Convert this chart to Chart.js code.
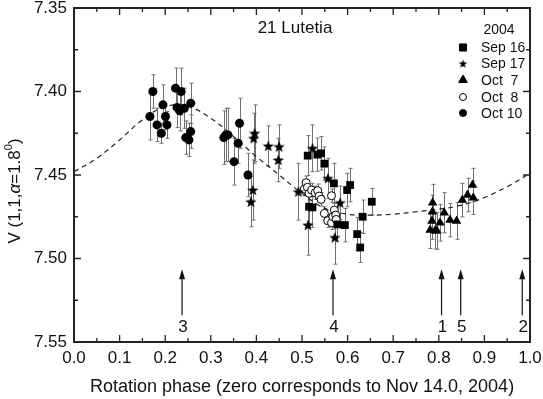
<!DOCTYPE html>
<html>
<head>
<meta charset="utf-8">
<script src="https://cdn.jsdelivr.net/npm/chart.js@4.4.1/dist/chart.umd.min.js"></script>
<style>
html, body { margin: 0; padding: 0; background: #fff; }
</style>
</head>
<body>
<canvas id="lutetia" width="543" height="399"></canvas>
<script>
// Sep 16 (squares)
const sep16X = [0.5125, 0.5155, 0.523, 0.5337, 0.542, 0.549, 0.570, 0.5776, 0.594, 0.599, 0.6056, 0.621, 0.6276, 0.633, 0.653];
const sep16Y = [7.4384, 7.469, 7.4694, 7.4378, 7.437, 7.4432, 7.455, 7.4796, 7.480, 7.459, 7.456, 7.4854, 7.4934, 7.475, 7.466];
const sep16Err = [0.012, 0.010, 0.012, 0.010, 0.010, 0.010, 0.012, 0.010, 0.010, 0.010, 0.010, 0.010, 0.009, 0.010, 0.008];

// Sep 17 (stars)
const sep17X = [0.388, 0.392, 0.394, 0.396, 0.426, 0.448, 0.4497, 0.492, 0.513, 0.523, 0.557, 0.572, 0.5836];
const sep17Y = [7.466, 7.459, 7.428, 7.425, 7.4326, 7.441, 7.433, 7.460, 7.480, 7.434, 7.452, 7.4874, 7.4666];
const sep17Err = [0.015, 0.018, 0.015, 0.017, 0.012, 0.013, 0.013, 0.017, 0.018, 0.014, 0.012, 0.016, 0.010];

// Oct 7 (triangles)
const oct7X = [0.781, 0.785, 0.786, 0.7865, 0.7917, 0.796, 0.8026, 0.812, 0.8246, 0.839, 0.8516, 0.863, 0.874, 0.8757];
const oct7Y = [7.483, 7.4775, 7.472, 7.4666, 7.4834, 7.4834, 7.4786, 7.4726, 7.477, 7.4775, 7.465, 7.462, 7.456, 7.4636];
const oct7Err = [0.011, 0.011, 0.010, 0.011, 0.011, 0.011, 0.011, 0.012, 0.010, 0.011, 0.010, 0.010, 0.010, 0.010];

// Oct 8 (open circles)
const oct8X = [0.505, 0.509, 0.512, 0.5155, 0.521, 0.529, 0.5345, 0.5375, 0.542, 0.549, 0.5564, 0.5647, 0.5647, 0.5677, 0.571, 0.574, 0.575];
const oct8Y = [7.4584, 7.4546, 7.4574, 7.461, 7.459, 7.4606, 7.4594, 7.4626, 7.4646, 7.473, 7.4774, 7.4624, 7.4786, 7.475, 7.471, 7.474, 7.4766];
const oct8Err = [0.004, 0.004, 0.004, 0.004, 0.004, 0.004, 0.004, 0.004, 0.004, 0.004, 0.004, 0.004, 0.004, 0.004, 0.004, 0.004, 0.004];

// Oct 10 (filled circles)
const oct10X = [0.1665, 0.173, 0.182, 0.1915, 0.195, 0.2006, 0.204, 0.2226, 0.226, 0.2316, 0.235, 0.242, 0.245, 0.252, 0.256, 0.256, 0.3285, 0.333, 0.3376, 0.351, 0.360, 0.363, 0.3815];
const oct10Y = [7.415, 7.400, 7.420, 7.425, 7.408, 7.415, 7.420, 7.398, 7.4096, 7.4116, 7.400, 7.410, 7.4276, 7.429, 7.407, 7.424, 7.4276, 7.426, 7.426, 7.442, 7.431, 7.419, 7.450];
const oct10Err = [0.014, 0.010, 0.010, 0.006, 0.012, 0.008, 0.008, 0.012, 0.012, 0.012, 0.014, 0.012, 0.010, 0.010, 0.012, 0.010, 0.016, 0.016, 0.016, 0.014, 0.012, 0.015, 0.013];

// fitted lightcurve (dashed)
const curveX = [0, 0.05, 0.10, 0.15, 0.20, 0.25, 0.30, 0.35, 0.40, 0.45, 0.50, 0.55, 0.60, 0.65, 0.70, 0.75, 0.80, 0.85, 0.90, 0.95, 1.00];
const curveY = [7.448, 7.440, 7.429, 7.417, 7.409, 7.409, 7.416, 7.427, 7.439, 7.450, 7.461, 7.470, 7.4735, 7.474, 7.4735, 7.472, 7.4705, 7.468, 7.4635, 7.457, 7.449];

// arrows
const arrowX = [0.237, 0.568, 0.806, 0.848, 0.983];
const arrowLabels = ['3', '4', '1', '5', '2'];

const legendYear = '2004';
const chartTitle = '21 Lutetia';

const FONT = "'Liberation Sans', Arial, sans-serif";

const pts = (xs, ys) => xs.map((x, i) => ({ x: x, y: ys[i] }));

const starImage = r => {
    const c = document.createElement('canvas');
    const s = Math.ceil(r * 2 + 2);
    c.width = s; c.height = s;
    const g = c.getContext('2d');
    g.fillStyle = '#000';
    g.beginPath();
    for (let i = 0; i < 10; i++) {
        const a = -Math.PI / 2 + i * Math.PI / 5;
        const rr = i % 2 ? r * 0.42 : r;
        g.lineTo(s / 2 + rr * Math.cos(a), s / 2 + 0.5 + rr * Math.sin(a));
    }
    g.closePath();
    g.fill();
    return c;
};
const star = starImage(6);
const smallStar = starImage(4.5);

const errorBars = {
    id: 'errorBars',
    beforeDatasetsDraw(chart) {
        const { ctx, scales: { x, y } } = chart;
        ctx.save();
        ctx.strokeStyle = '#707070';
        ctx.lineWidth = 1;
        chart.data.datasets.forEach(ds => {
            if (!ds.errors) return;
            ds.data.forEach((p, i) => {
                const px = Math.round(x.getPixelForValue(p.x)) + 0.5;
                const top = y.getPixelForValue(p.y - ds.errors[i]);
                const bot = y.getPixelForValue(p.y + ds.errors[i]);
                ctx.beginPath();
                ctx.moveTo(px, top); ctx.lineTo(px, bot);
                ctx.moveTo(px - 2, top); ctx.lineTo(px + 2, top);
                ctx.moveTo(px - 2, bot); ctx.lineTo(px + 2, bot);
                ctx.stroke();
            });
        });
        ctx.restore();
    }
};

const frame = {
    id: 'frame',
    afterDatasetsDraw(chart) {
        const { ctx, chartArea: a, scales: { x, y } } = chart;
        ctx.save();
        ctx.strokeStyle = '#222';
        ctx.lineWidth = 1.3;
        ctx.beginPath();
        for (let i = 0; i <= 20; i++) {
            const px = x.getPixelForValue(i * 0.05), len = i % 2 ? 4 : 7;
            ctx.moveTo(px, a.bottom); ctx.lineTo(px, a.bottom - len);
            ctx.moveTo(px, a.top); ctx.lineTo(px, a.top + len);
        }
        for (let i = 0; i <= 8; i++) {
            const py = y.getPixelForValue(7.35 + i * 0.025), len = i % 2 ? 4 : 7;
            ctx.moveTo(a.left, py); ctx.lineTo(a.left + len, py);
            ctx.moveTo(a.right, py); ctx.lineTo(a.right - len, py);
        }
        ctx.stroke();
        ctx.lineWidth = 2;
        ctx.strokeRect(a.left, a.top, a.right - a.left, a.bottom - a.top);

        // arrows
        ctx.fillStyle = '#111';
        ctx.strokeStyle = '#111';
        ctx.lineWidth = 1.2;
        ctx.font = '17px ' + FONT;
        ctx.textAlign = 'center';
        ctx.textBaseline = 'middle';
        arrowX.forEach((v, i) => {
            const px = x.getPixelForValue(v);
            const top = y.getPixelForValue(7.5065);
            const bot = y.getPixelForValue(7.534);
            ctx.beginPath();
            ctx.moveTo(px, bot); ctx.lineTo(px, top + 8);
            ctx.stroke();
            ctx.beginPath();
            ctx.moveTo(px, top); ctx.lineTo(px - 3, top + 10); ctx.lineTo(px + 3, top + 10);
            ctx.closePath();
            ctx.fill();
            ctx.fillText(arrowLabels[i], px + 1, y.getPixelForValue(7.5415));
        });

        // title
        ctx.font = '17px ' + FONT;
        ctx.fillText(chartTitle, 295, 28);

        // legend
        ctx.font = '14px ' + FONT;
        ctx.fillText(legendYear, 499, 30);
        ctx.textAlign = 'left';
        const rows = [47.5, 63.5, 80, 97, 113];
        const styles = [
            { pointStyle: 'rect', radius: 5, fill: '#000', border: '#000' },
            { pointStyle: smallStar, radius: 5, fill: '#000', border: '#000' },
            { pointStyle: 'triangle', radius: 5, fill: '#000', border: '#000' },
            { pointStyle: 'circle', radius: 3.5, fill: '#fff', border: '#000' },
            { pointStyle: 'circle', radius: 3.5, fill: '#000', border: '#000' }
        ];
        chart.data.datasets.filter(d => d.errors).forEach((ds, i) => {
            const st = styles[i];
            ctx.fillStyle = st.fill;
            ctx.strokeStyle = st.border;
            ctx.lineWidth = 1;
            Chart.helpers.drawPoint(ctx, { pointStyle: st.pointStyle, radius: st.radius, rotation: 0, borderWidth: 1 }, 463, rows[i]);
            ctx.fillStyle = '#111';
            ctx.fillText(ds.label, 481, rows[i] + 1);
        });

        // y axis title
        ctx.save();
        ctx.translate(15, 191);
        ctx.rotate(-Math.PI / 2);
        const parts = [
            ['V (1,1,', '17px ' + FONT, 0],
            ['\u03b1', 'italic 17px ' + FONT, 0],
            ['=1.8', '17px ' + FONT, 0],
            ['0', '11px ' + FONT, -6],
            [')', '17px ' + FONT, 0]
        ];
        let total = 0;
        parts.forEach(p => { ctx.font = p[1]; total += ctx.measureText(p[0]).width; });
        let cx = -total / 2;
        ctx.fillStyle = '#111';
        ctx.textAlign = 'left';
        parts.forEach(p => {
            ctx.font = p[1];
            ctx.fillText(p[0], cx, p[2]);
            cx += ctx.measureText(p[0]).width;
        });
        ctx.restore();
        ctx.restore();
    }
};

const ctx = document.getElementById('lutetia');
new Chart(ctx, {
    type: 'scatter',
    data: {
        datasets: [
            { label: 'Sep 16', data: pts(sep16X, sep16Y), errors: sep16Err, pointStyle: 'rect', pointRadius: 5.5, backgroundColor: '#000', borderColor: '#000', borderWidth: 0 },
            { label: 'Sep 17', data: pts(sep17X, sep17Y), errors: sep17Err, pointStyle: star, pointRadius: 6, backgroundColor: '#000', borderColor: '#000' },
            { label: 'Oct  7', data: pts(oct7X, oct7Y), errors: oct7Err, pointStyle: 'triangle', pointRadius: 5.5, backgroundColor: '#000', borderColor: '#000', borderWidth: 0 },
            { label: 'Oct  8', data: pts(oct8X, oct8Y), errors: oct8Err, pointStyle: 'circle', pointRadius: 4, backgroundColor: '#fff', borderColor: '#000', borderWidth: 1 },
            { label: 'Oct 10', data: pts(oct10X, oct10Y), errors: oct10Err, pointStyle: 'circle', pointRadius: 4.5, backgroundColor: '#000', borderColor: '#000', borderWidth: 0 },
            { type: 'line', label: 'fit', data: pts(curveX, curveY), borderColor: '#222', borderWidth: 1.2, borderDash: [5, 4], pointRadius: 0, tension: 0.4, fill: false }
        ]
    },
    options: {
        responsive: false,
        animation: false,
        layout: { padding: { top: 8, right: 13, left: 0, bottom: 0 } },
        plugins: { legend: { display: false }, tooltip: { enabled: false } },
        scales: {
            x: {
                type: 'linear',
                min: 0,
                max: 1,
                afterFit: s => { s.height = 57; s.paddingLeft = 0; s.paddingRight = 0; },
                grid: { display: false, drawTicks: false },
                border: { display: false },
                ticks: {
                    stepSize: 0.1,
                    padding: 8,
                    color: '#111',
                    font: { family: FONT, size: 17, lineHeight: 1 },
                    callback: v => v.toFixed(1)
                },
                title: {
                    display: true,
                    text: 'Rotation phase (zero corresponds to Nov 14.0, 2004)',
                    color: '#111',
                    font: { family: FONT, size: 18, lineHeight: 1 },
                    padding: { top: 0, bottom: 3 }
                }
            },
            y: {
                type: 'linear',
                reverse: true,
                min: 7.35,
                max: 7.55,
                afterFit: s => { s.width = 74; s.paddingTop = 0; s.paddingBottom = 0; },
                grid: { display: false, drawTicks: false },
                border: { display: false },
                ticks: {
                    stepSize: 0.05,
                    padding: 7,
                    color: '#111',
                    font: { family: FONT, size: 17, lineHeight: 1 },
                    callback: v => v.toFixed(2)
                }
            }
        }
    },
    plugins: [errorBars, frame]
});
</script>
</body>
</html>
